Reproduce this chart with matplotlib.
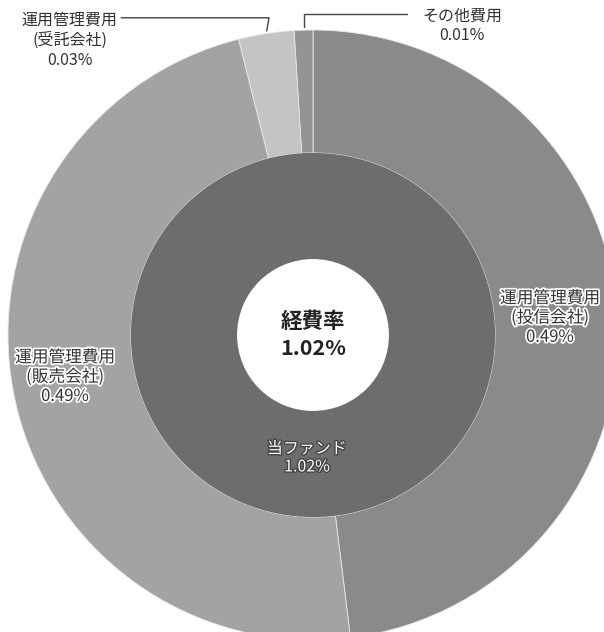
import matplotlib
matplotlib.use('Agg')
import matplotlib.pyplot as plt
import matplotlib.patheffects as pe
import numpy as np

plt.rcParams['font.family'] = ['Noto Sans CJK JP', 'DejaVu Sans']

# 費用の内訳 (%)
labels = ['運用管理費用\n(投信会社)', '運用管理費用\n(販売会社)', '運用管理費用\n(受託会社)', 'その他費用']
values = [0.49, 0.49, 0.03, 0.01]
pct_text = ['0.49%', '0.49%', '0.03%', '0.01%']
colors = ['#8a8a8a', '#a3a3a3', '#c4c4c4', '#949494']
fund_label = '当ファンド'
fund_value = 1.02

fig = plt.figure(figsize=(6.04, 6.32), dpi=100)
ax = fig.add_axes([0, 0, 1, 1])

# outer ring
ax.pie(values, colors=colors, startangle=90, counterclock=False, radius=1.0,
       wedgeprops=dict(width=0.403, edgecolor='#e8e8e8', linewidth=0.6))
# inner ring
ax.pie([fund_value], colors=['#6d6d6d'], startangle=90, counterclock=False, radius=0.597,
       wedgeprops=dict(width=0.348, edgecolor='none'))

ax.set_xlim(-313 / 305, 291 / 305)
ax.set_ylim(-297 / 305, 335 / 305)
ax.set_aspect('equal')
ax.axis('off')

dark_halo = [pe.withStroke(linewidth=2.5, foreground='white')]
light_halo = [pe.withStroke(linewidth=2.0, foreground='#444444')]

# center
ax.text(0, 0.0, '経費率\n%.2f%%' % fund_value, ha='center', va='center', fontsize=15.5,
        fontweight='bold', color='#222222', linespacing=1.3)

# inner label
ax.text(-0.02, -0.403, '%s\n%.2f%%' % (fund_label, fund_value), ha='center', va='center',
        fontsize=11.5, color='white', linespacing=1.08, path_effects=light_halo)

# big slice labels
ax.text(0.777, 0.056, labels[0] + '\n' + pct_text[0], ha='center', va='center',
        fontsize=12, color='#333333', linespacing=1.17, path_effects=dark_halo)
ax.text(-0.813, -0.138, labels[1] + '\n' + pct_text[1], ha='center', va='center',
        fontsize=12, color='#333333', linespacing=1.17, path_effects=dark_halo)

# small slices with leader lines
cum = np.cumsum([0] + values)
total = sum(values)
mids = [90 - 360 * (cum[i] + cum[i + 1]) / 2 / total for i in range(len(values))]

ax.text(-0.797, 0.966, labels[2] + '\n' + pct_text[2], ha='center', va='center',
        fontsize=11.5, color='#333333', linespacing=1.2)
th = np.radians(mids[2])
ax.annotate('', xy=(np.cos(th), np.sin(th)), xytext=(-0.638, 1.040),
            arrowprops=dict(arrowstyle='-', color='#444444', lw=1.0,
                            connectionstyle='angle,angleA=0,angleB=80,rad=0'))

ax.text(0.489, 1.013, labels[3] + '\n' + pct_text[3], ha='center', va='center',
        fontsize=11.5, color='#333333', linespacing=1.2)
th = np.radians(mids[3])
ax.annotate('', xy=(np.cos(th), np.sin(th)), xytext=(0.318, 1.052),
            arrowprops=dict(arrowstyle='-', color='#444444', lw=1.0,
                            connectionstyle='angle,angleA=0,angleB=90,rad=0'))

fig.savefig('out.png', dpi=100)
